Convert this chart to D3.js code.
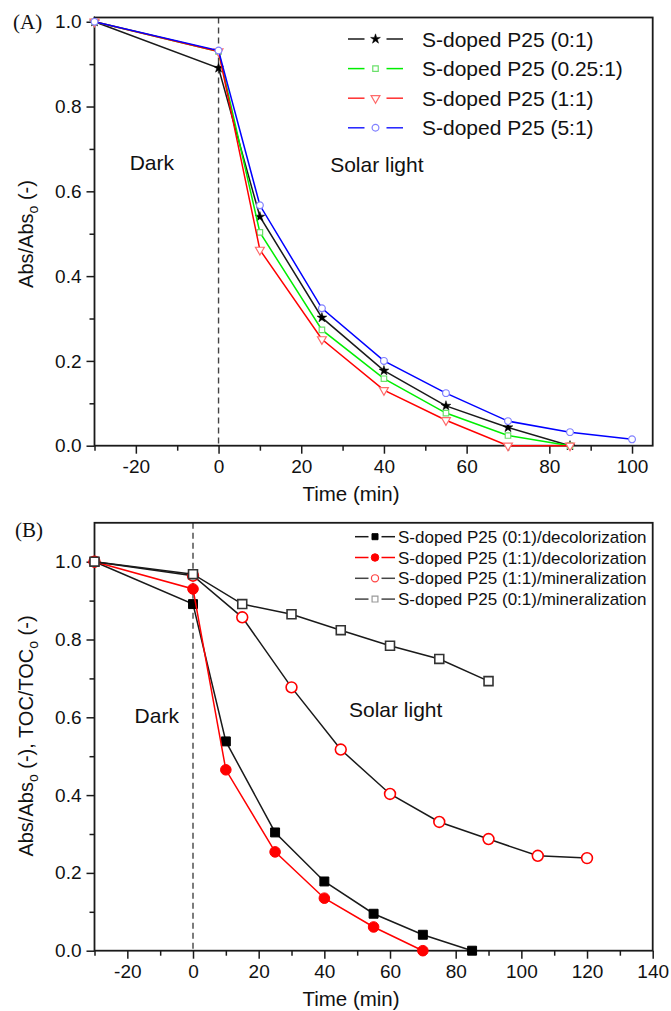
<!DOCTYPE html>
<html>
<head>
<meta charset="utf-8">
<script src="https://cdn.jsdelivr.net/npm/d3@7"></script>
<style>
	body { margin: 0; background: #fff; }
	svg text { font-family: "Liberation Sans", Arial, sans-serif; fill: #111; }
	svg text.panel-tag { font-family: "Liberation Serif", "Times New Roman", serif; }
</style>
</head>
<body>
<div id="chart"></div>
<script>
// ---- panel A data ----
const timeA = [-30, 0, 10, 25, 40, 55, 70, 85];
const timeA_blue = [-30, 0, 10, 25, 40, 55, 70, 85, 100];
const absA_0_1 = [1.0, 0.891, 0.54, 0.302, 0.177, 0.094, 0.043, 0.0];
const absA_025_1 = [1.0, 0.93, 0.503, 0.273, 0.158, 0.077, 0.024, 0.0];
const absA_1_1 = [1.0, 0.93, 0.462, 0.251, 0.131, 0.06, 0.0, 0.0];
const absA_5_1 = [1.0, 0.932, 0.567, 0.324, 0.2, 0.124, 0.058, 0.032, 0.015];
const labelsA = ["S-doped P25 (0:1)", "S-doped P25 (0.25:1)", "S-doped P25 (1:1)", "S-doped P25 (5:1)"];

// ---- panel B data ----
const timeB_black = [-30, 0, 10, 25, 40, 55, 70, 85];
const decol_0_1 = [1.0, 0.891, 0.538, 0.304, 0.178, 0.095, 0.041, 0.0];
const timeB_red = [-30, 0, 10, 25, 40, 55, 70];
const decol_1_1 = [1.0, 0.93, 0.465, 0.254, 0.135, 0.061, 0.0];
const timeB_min11 = [-30, 0, 15, 30, 45, 60, 75, 90, 105, 120];
const miner_1_1 = [1.0, 0.964, 0.857, 0.677, 0.517, 0.403, 0.331, 0.287, 0.244, 0.238];
const timeB_min01 = [-30, 0, 15, 30, 45, 60, 75, 90];
const miner_0_1 = [1.0, 0.968, 0.891, 0.865, 0.824, 0.784, 0.75, 0.693];
const labelsB = [
	"S-doped P25 (0:1)/decolorization",
	"S-doped P25 (1:1)/decolorization",
	"S-doped P25 (1:1)/mineralization",
	"S-doped P25 (0:1)/mineralization",
];

// ticks
const xMajorA = [-20, 0, 20, 40, 60, 80, 100];
const xMinorA = [-30, -10, 10, 30, 50, 70, 90];
const xMajorB = [-20, 0, 20, 40, 60, 80, 100, 120, 140];
const xMinorB = [-30, -10, 10, 30, 50, 70, 90, 110, 130];
const yMajor = [0, 0.2, 0.4, 0.6, 0.8, 1.0];
const yMinor = [0.1, 0.3, 0.5, 0.7, 0.9];

const svg = d3
	.select("#chart")
	.append("svg")
	.attr("width", 671)
	.attr("height", 1011);

const xA = d3.scaleLinear().domain([-30, 105]).range([94.5, 652.7]);
const yA = d3.scaleLinear().domain([0, 1.01]).range([445.7, 17.5]);
const xB = d3.scaleLinear().domain([-30, 140]).range([94.5, 652.7]);
const yB = d3.scaleLinear().domain([0, 1.1]).range([950.7, 522.8]);

const axisColor = "#1a1a1a";

function style_axis(g) {
	g.select(".domain").remove();
	g.selectAll("line").attr("stroke", axisColor).attr("stroke-width", 1.5);
	g.attr("font-size", 19);
	g.selectAll("text").attr("fill", "#111");
}

function draw_frame(x, y, xMajor, xMinor) {
	const x0 = x.range()[0], x1 = x.range()[1];
	const y0 = y.range()[0], y1 = y.range()[1];

	// dashed line at t = 0
	svg.append("line")
		.attr("x1", x(0)).attr("x2", x(0))
		.attr("y1", y1).attr("y2", y0)
		.attr("stroke", "#444")
		.attr("stroke-width", 1.4)
		.attr("stroke-dasharray", "6,4");

	svg.append("g")
		.attr("transform", `translate(0,${y0})`)
		.call(d3.axisBottom(x).tickValues(xMajor).tickSize(8).tickSizeOuter(0).tickPadding(6).tickFormat((d) => String(d)))
		.call(style_axis);
	svg.append("g")
		.attr("transform", `translate(0,${y0})`)
		.call(d3.axisBottom(x).tickValues(xMinor).tickSize(5).tickSizeOuter(0).tickFormat(""))
		.call(style_axis);

	svg.append("g")
		.attr("transform", `translate(${x0},0)`)
		.call(d3.axisLeft(y).tickValues(yMajor).tickSize(8).tickSizeOuter(0).tickPadding(5).tickFormat(d3.format(".1f")))
		.call(style_axis);
	svg.append("g")
		.attr("transform", `translate(${x0},0)`)
		.call(d3.axisLeft(y).tickValues(yMinor).tickSize(5).tickSizeOuter(0).tickFormat(""))
		.call(style_axis);

	svg.append("rect")
		.attr("x", x0).attr("y", y1)
		.attr("width", x1 - x0).attr("height", y0 - y1)
		.attr("fill", "none")
		.attr("stroke", axisColor)
		.attr("stroke-width", 1.8);
}

function draw_series(x, y, times, values, lineColor, marker) {
	const pts = times.map((t, i) => [t, values[i]]);
	svg.append("path")
		.datum(pts)
		.attr("fill", "none")
		.attr("stroke", lineColor)
		.attr("stroke-width", 1.5)
		.attr("d", d3.line().x((d) => x(d[0])).y((d) => y(d[1])));
	pts.forEach((d) => marker(svg, x(d[0]), y(d[1])));
}

// marker factories
function sym(type, size, fill, stroke, sw, rot) {
	return function (g, cx, cy) {
		g.append("path")
			.attr("d", d3.symbol().type(type).size(size)())
			.attr("transform", `translate(${cx},${cy})` + (rot ? ` rotate(${rot})` : ""))
			.attr("fill", fill)
			.attr("stroke", stroke)
			.attr("stroke-width", sw);
	};
}

const mStar = sym(d3.symbolStar, 30, "#000", "#000", 0.5);
const mSqGreen = sym(d3.symbolSquare, 30, "#fff", "#6be06b", 1.2);
const mTriRed = sym(d3.symbolTriangle, 34, "#fff", "#ff6a6a", 1.2, 180);
const mCircBlue = sym(d3.symbolCircle, 36, "#fff", "#8080ff", 1.2);

const mSqBlack = sym(d3.symbolSquare, 80, "#000", "#000", 1);
const mDotRed = sym(d3.symbolCircle, 88, "#f00", "#f00", 1);
const mCircRed = sym(d3.symbolCircle, 92, "#fff", "#f00", 1.6);
const mSqOpen = sym(d3.symbolSquare, 80, "#fff", "#333", 1.6);

const mSqBlackS = sym(d3.symbolSquare, 36, "#000", "#000", 1);
const mDotRedS = sym(d3.symbolCircle, 44, "#f00", "#f00", 1);
const mCircRedS = sym(d3.symbolCircle, 40, "#fff", "#f44", 1.2);
const mSqOpenS = sym(d3.symbolSquare, 34, "#fff", "#999", 1.2);

function legend_row(lx0, lx1, gap, cy, lineColor, marker, label, fontSize, textX) {
	const mid = (lx0 + lx1) / 2;
	svg.append("line").attr("x1", lx0).attr("x2", mid - gap).attr("y1", cy).attr("y2", cy)
		.attr("stroke", lineColor).attr("stroke-width", 1.5);
	svg.append("line").attr("x1", mid + gap).attr("x2", lx1).attr("y1", cy).attr("y2", cy)
		.attr("stroke", lineColor).attr("stroke-width", 1.5);
	marker(svg, mid, cy);
	svg.append("text")
		.attr("x", textX)
		.attr("y", cy)
		.attr("dy", "0.36em")
		.attr("font-size", fontSize)
		.text(label);
}

function add_text(x, y, label, size, anchor) {
	return svg.append("text")
		.attr("x", x).attr("y", y)
		.attr("font-size", size)
		.attr("text-anchor", anchor || "start")
		.text(label);
}

function y_title(cx, cy, parts) {
	const t = svg.append("text")
		.attr("transform", `translate(${cx},${cy}) rotate(-90)`)
		.attr("text-anchor", "middle")
		.attr("font-size", 20);
	parts.forEach((p) => {
		if (p.sub) {
			t.append("tspan").attr("font-size", 14).attr("dy", 5).text(p.sub);
		} else {
			t.append("tspan").attr("dy", p.up ? -5 : 0).text(p.txt);
		}
	});
}

// ================= panel A =================
draw_frame(xA, yA, xMajorA, xMinorA);
draw_series(xA, yA, timeA, absA_0_1, "#1a1a1a", mStar);
draw_series(xA, yA, timeA, absA_025_1, "#00ee00", mSqGreen);
draw_series(xA, yA, timeA, absA_1_1, "#ff0000", mTriRed);
draw_series(xA, yA, timeA_blue, absA_5_1, "#0000ff", mCircBlue);

const colorsA = ["#1a1a1a", "#00ee00", "#ff3030", "#2020ff"];
const markersA = [mStar, mSqGreen, mTriRed, mCircBlue];
labelsA.forEach((l, i) => legend_row(348, 403, 11, 39 + i * 29.6, colorsA[i], markersA[i], l, 21, 422));

add_text(xA(-21.5), yA(0.65), "Dark", 21);
add_text(xA(27), yA(0.645), "Solar light", 21);
add_text(351, 501, "Time (min)", 20.5, "middle");
y_title(33, 234, [{ txt: "Abs/Abs" }, { sub: "o" }, { txt: " (-)", up: true }]);
add_text(13, 29, "(A)", 21).attr("class", "panel-tag");

// ================= panel B =================
draw_frame(xB, yB, xMajorB, xMinorB);
draw_series(xB, yB, timeB_black, decol_0_1, "#1a1a1a", mSqBlack);
draw_series(xB, yB, timeB_red, decol_1_1, "#ff0000", mDotRed);
draw_series(xB, yB, timeB_min11, miner_1_1, "#1a1a1a", mCircRed);
draw_series(xB, yB, timeB_min01, miner_0_1, "#1a1a1a", mSqOpen);

const colorsB = ["#1a1a1a", "#ff0000", "#444", "#444"];
const markersB = [mSqBlackS, mDotRedS, mCircRedS, mSqOpenS];
labelsB.forEach((l, i) => legend_row(355, 395, 6.5, 536.7 + i * 20.8, colorsB[i], markersB[i], l, 17, 398));

add_text(xB(-17.8), yB(0.585), "Dark", 21);
add_text(xB(47.5), yB(0.6), "Solar light", 21);
add_text(351, 1006, "Time (min)", 20.5, "middle");
y_title(33, 736, [{ txt: "Abs/Abs" }, { sub: "o" }, { txt: " (-), TOC/TOC", up: true }, { sub: "o" }, { txt: " (-)", up: true }]);
add_text(15, 537, "(B)", 21).attr("class", "panel-tag");
</script>
</body>
</html>
